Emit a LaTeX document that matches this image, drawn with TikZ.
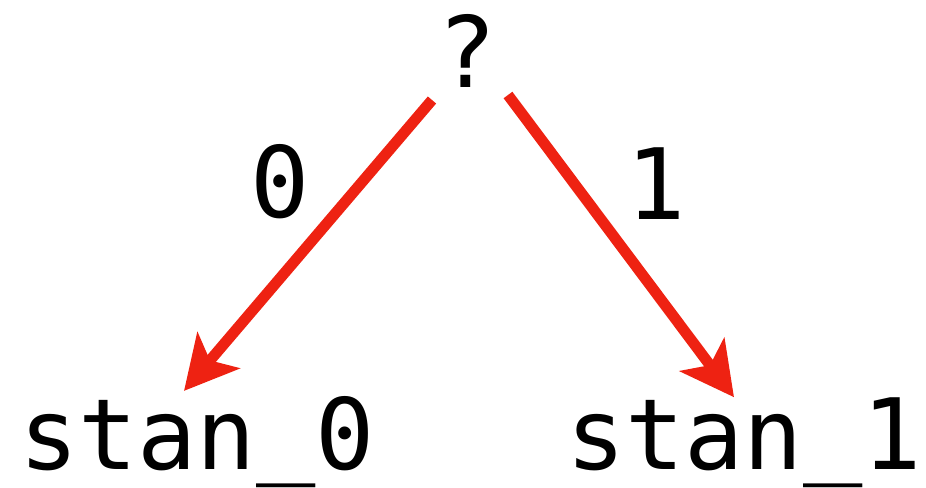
\documentclass[tikz,border=0pt]{standalone}
\usepackage{fontspec}
\setmonofont{DejaVu Sans Mono}
\usepackage{xcolor}
\usepackage{tikz}
\usetikzlibrary{arrows.meta, positioning, calc}

\definecolor{branchred}{RGB}{238,34,18}
\newcommand{\lowbar}{\raisebox{0.06em}{\_}}

\begin{document}
\begin{tikzpicture}[
        x=0.01cm, y=-0.01cm,
        base/.style={
            inner sep=0pt, outer sep=0pt,
            font=\ttfamily\fontsize{28}{30}\selectfont
        },
        state/.style={base, anchor=base},
        bit/.style={base, anchor=center},
        arrow/.style={draw=branchred, line width=3.1pt,
            -{Stealth[length=5.3mm, width=5.5mm, inset=1.3mm, fill=branchred]}}
    ]
        \useasboundingbox (0,0) rectangle (926,488);

        % Nodes
        \node[state] (q) at (467,88) {?};

        \node[state] (s0) at (197,470) {stan\lowbar0};

        \node[state] (s1) at (744,470) {stan\lowbar1};

        \node[bit] (b0) at (280,182) {0};

        \node[bit] (b1) at (656,184) {1};

        % Arrows
        \draw[arrow] ([shift={(-35,12)}]q.south) -- ([shift={(-13,-6)}]s0.north);
        \draw[arrow] ([shift={(41,7)}]q.south) -- ([shift={(-10,-1)}]s1.north);

    \end{tikzpicture}
\end{document}
